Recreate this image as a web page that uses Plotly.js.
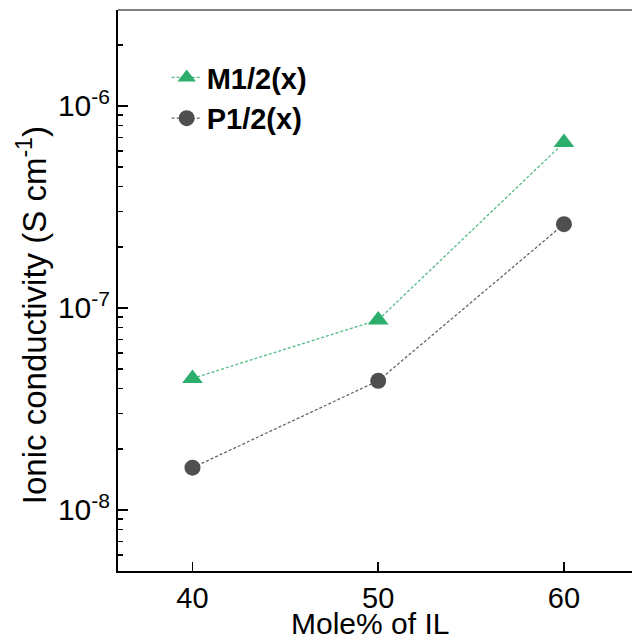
<!DOCTYPE html>
<html><head><meta charset="utf-8">
<script src="https://cdn.plot.ly/plotly-3.0.1.min.js"></script>
<style>html,body{margin:0;padding:0;overflow:hidden;background:#fff}</style>
</head><body><div id="chart" style="width:640px;height:641px"></div>
<script>
// Data
const moleIL = [40, 50, 60];
const m12 = [4.48e-8, 8.73e-8, 6.59e-7];
const p12 = [1.62e-8, 4.36e-8, 2.60e-7];
const seriesNames = ['M1/2(x)', 'P1/2(x)'];
const xTickVals = [40, 50, 60];
const xTickText = ['40', '50', '60'];
const yTickVals = [1e-8, 1e-7, 1e-6];
const yTickText = ['10<sup>-8</sup>', '10<sup>-7</sup>', '10<sup>-6</sup>'];
const xTitle = 'Mole% of IL';
const yTitle = 'Ionic conductivity (S cm<sup>-1</sup>)';
const minorDecades = [-9, -8, -7, -6];
const minorMantissas = [2, 3, 4, 5, 6, 7, 8, 9];

const yMinorVals = [];
minorDecades.forEach(d => minorMantissas.forEach(m => yMinorVals.push(m * Math.pow(10, d))));

const FONT = 'Liberation Sans, Arial, Helvetica, sans-serif';

const traces = [
  {
    x: moleIL, y: m12, name: seriesNames[0], type: 'scatter', mode: 'lines+markers',
    line: {color: '#52bb84', width: 1.3, dash: '3px,2px'},
    marker: {symbol: 'triangle-up', size: 18, color: '#2eae6c'}
  },
  {
    x: moleIL, y: p12, name: seriesNames[1], type: 'scatter', mode: 'lines+markers',
    line: {color: '#666666', width: 1.3, dash: '3px,2px'},
    marker: {symbol: 'circle', size: 16, color: '#4f4f4f'}
  }
];

const layout = {
  width: 640, height: 641,
  margin: {l: 118, r: 4, t: 10, b: 70},
  paper_bgcolor: '#ffffff', plot_bgcolor: '#ffffff',
  font: {family: FONT, color: '#000'},
  showlegend: true,
  legend: {
    x: 0.094, y: 0.925, xanchor: 'left', yanchor: 'top',
    bgcolor: 'rgba(0,0,0,0)', borderwidth: 0,
    font: {family: FONT, size: 29, color: '#000', weight: 'bold'}
  },
  xaxis: {
    range: [35.99, 63.88],
    tickmode: 'array', tickvals: xTickVals, ticktext: xTickText,
    ticks: 'inside', ticklen: 9, tickwidth: 1.5, tickcolor: '#000',
    showline: true, linecolor: '#000', linewidth: 2,
    showgrid: false, zeroline: false,
    tickfont: {family: FONT, size: 29, color: '#000'}
  },
  yaxis: {
    type: 'log', range: [-8.302, -5.525],
    tickmode: 'array', tickvals: yTickVals, ticktext: yTickText,
    ticks: 'inside', ticklen: 10, tickwidth: 1.5, tickcolor: '#000',
    minor: {tickmode: 'array', tickvals: yMinorVals, ticks: 'inside', ticklen: 5, tickwidth: 1.5, tickcolor: '#000', showgrid: false},
    showline: true, linecolor: '#000', linewidth: 2,
    showgrid: false, zeroline: false,
    tickfont: {family: FONT, size: 30, color: '#000'}
  },
  annotations: [
    {text: xTitle, xref: 'paper', yref: 'paper', x: 0.4865, y: -0.1265, xanchor: 'center', yanchor: 'bottom',
     showarrow: false, font: {family: FONT, size: 30, color: '#000'}},
    {text: yTitle, xref: 'paper', yref: 'paper', x: -0.166, y: 0.456, xanchor: 'center', yanchor: 'middle',
     textangle: -90, showarrow: false, font: {family: FONT, size: 33, color: '#000'}}
  ],
  shapes: [
    {type: 'line', xref: 'paper', yref: 'paper', x0: 0, x1: 1, y0: 1, y1: 1, line: {color: '#555555', width: 1.5}}
  ]
};

Plotly.newPlot('chart', traces, layout, {displayModeBar: false, staticPlot: true});
</script>
</body></html>
